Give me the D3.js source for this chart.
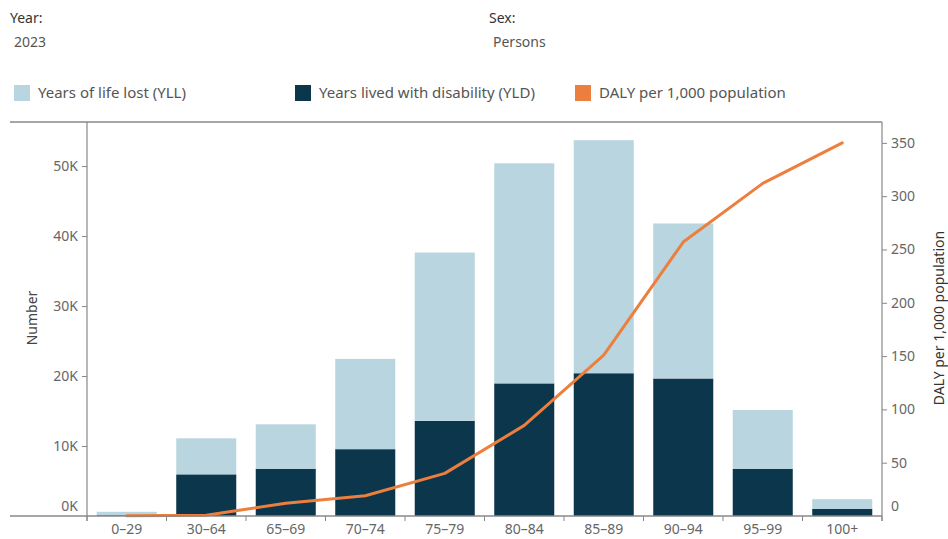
<!doctype html>
<html>
<head>
<meta charset="utf-8">
<script src="https://d3js.org/d3.v7.min.js"></script>
<style>
  body { margin: 0; background: #fff; }
  text { font-family: "Noto Sans", "Open Sans", sans-serif; }
</style>
</head>
<body>
<svg id="chart" width="948" height="539"></svg>
<script>
// age groups and values
var ageGroups = ['0–29', '30–64', '65–69', '70–74', '75–79', '80–84', '85–89', '90–94', '95–99', '100+'];
var yld = [100, 5950, 6750, 9550, 13600, 18950, 20400, 19650, 6750, 1000];
var yll = [500, 5150, 6350, 12900, 24050, 31450, 33300, 22150, 8400, 1400];
var dalyRate = [0.3, 0.8, 12, 19, 40, 85, 151, 257, 312, 350];
var leftTicks = [0, 10000, 20000, 30000, 40000, 50000];
var rightTicks = [0, 50, 100, 150, 200, 250, 300, 350];

var LIGHT = '#b9d5df';
var DARK = '#0b364b';
var ORANGE = '#ec7f3d';
var GREY = '#666';

var PLOT_L = 87, PLOT_R = 882, PLOT_T = 122, PLOT_B = 516;

var svg = d3.select('#chart');

var x = d3.scaleBand().domain(ageGroups).range([PLOT_L, PLOT_R]).paddingInner(0.245).paddingOuter(0.1225);
var yL = d3.scaleLinear().domain([0, 56300]).range([PLOT_B, PLOT_T]);
var yR = d3.scaleLinear().domain([0, 369.6]).range([PLOT_B, PLOT_T]);

// header
svg.append('text').attr('x', 10).attr('y', 23).attr('font-size', 14).attr('fill', '#333').text('Year:');
svg.append('text').attr('x', 14).attr('y', 47).attr('font-size', 14).attr('fill', '#555').text('2023');
svg.append('text').attr('x', 489).attr('y', 23).attr('font-size', 14).attr('fill', '#333').text('Sex:');
svg.append('text').attr('x', 493).attr('y', 47).attr('font-size', 14).attr('fill', '#555').text('Persons');

// legend
var legend = [
  { label: 'Years of life lost (YLL)', color: LIGHT, x: 14 },
  { label: 'Years lived with disability (YLD)', color: DARK, x: 295 },
  { label: 'DALY per 1,000 population', color: ORANGE, x: 575 }
];
var lg = svg.selectAll('g.legend').data(legend).enter().append('g').attr('class', 'legend');
lg.append('rect').attr('x', d => d.x).attr('y', 85).attr('width', 16).attr('height', 16).attr('fill', d => d.color);
lg.append('text').attr('x', d => d.x + 24).attr('y', 98).attr('font-size', 15).attr('fill', '#555').text(d => d.label);

// frame line on top
svg.append('line').attr('x1', 10).attr('x2', PLOT_R).attr('y1', PLOT_T).attr('y2', PLOT_T).attr('stroke', '#888').attr('stroke-width', 1.5);

// stacked bars
var rows = ageGroups.map((g, i) => ({ group: g, yld: yld[i], yll: yll[i] }));
var stack = d3.stack().keys(['yld', 'yll'])(rows);
var colors = { yld: DARK, yll: LIGHT };
svg.selectAll('g.series').data(stack).enter().append('g')
  .attr('fill', d => colors[d.key])
  .selectAll('rect').data(d => d).enter().append('rect')
  .attr('x', d => x(d.data.group))
  .attr('width', x.bandwidth())
  .attr('y', d => yL(d[1]))
  .attr('height', d => yL(d[0]) - yL(d[1]));

// line
var line = d3.line()
  .x((d, i) => x(ageGroups[i]) + x.bandwidth() / 2)
  .y(d => yR(d));
svg.append('path').datum(dalyRate).attr('d', line)
  .attr('fill', 'none').attr('stroke', ORANGE).attr('stroke-width', 3).attr('stroke-linejoin', 'round').attr('stroke-linecap', 'round');

// axes
var fmtK = d => (d / 1000) + 'K';
var gl = svg.append('g').attr('transform', 'translate(' + PLOT_L + ',0)')
  .call(d3.axisLeft(yL).tickValues(leftTicks).tickFormat(fmtK).tickSize(5).tickPadding(4));
var gr = svg.append('g').attr('transform', 'translate(' + PLOT_R + ',0)')
  .call(d3.axisRight(yR).tickValues(rightTicks).tickSize(5).tickPadding(4));
var gb = svg.append('g').attr('transform', 'translate(0,' + PLOT_B + ')')
  .call(d3.axisBottom(x).tickSize(0).tickPadding(8));

[gl, gr, gb].forEach(g => {
  g.select('.domain').remove();
  g.selectAll('line').attr('stroke', '#888');
  g.selectAll('text').attr('font-size', 14).attr('fill', GREY).style('font-family', '"Noto Sans", sans-serif');
});
// zero labels sit above the baseline, without a tick
gl.selectAll('.tick').filter(d => d === 0).select('text').attr('dy', '-0.4em');
gr.selectAll('.tick').filter(d => d === 0).select('text').attr('dy', '-0.4em');
gl.selectAll('.tick').filter(d => d === 0).select('line').remove();
gr.selectAll('.tick').filter(d => d === 0).select('line').remove();

// bottom ticks at band boundaries
var bounds = ageGroups.map(g => x(g) - x.step() * x.paddingInner() / 2);
bounds.push(PLOT_R);
svg.selectAll('line.btick').data(bounds).enter().append('line')
  .attr('x1', d => d).attr('x2', d => d).attr('y1', PLOT_B).attr('y2', PLOT_B + 5).attr('stroke', '#888');

svg.append('line').attr('x1', 10).attr('x2', PLOT_R).attr('y1', PLOT_B).attr('y2', PLOT_B).attr('stroke', '#888').attr('stroke-width', 1.5);
svg.append('line').attr('x1', PLOT_L).attr('x2', PLOT_L).attr('y1', PLOT_T).attr('y2', PLOT_B + 5).attr('stroke', '#888').attr('stroke-width', 1.2);
svg.append('line').attr('x1', PLOT_R).attr('x2', PLOT_R).attr('y1', PLOT_T).attr('y2', PLOT_B + 5).attr('stroke', '#888').attr('stroke-width', 1.2);

// axis titles
svg.append('text').attr('transform', 'translate(37,318) rotate(-90)').attr('text-anchor', 'middle')
  .attr('font-size', 14).attr('fill', '#444').text('Number');
svg.append('text').attr('transform', 'translate(944,318) rotate(-90)').attr('text-anchor', 'middle')
  .attr('font-size', 14).attr('fill', '#333').text('DALY per 1,000 population');
</script>
</body>
</html>
